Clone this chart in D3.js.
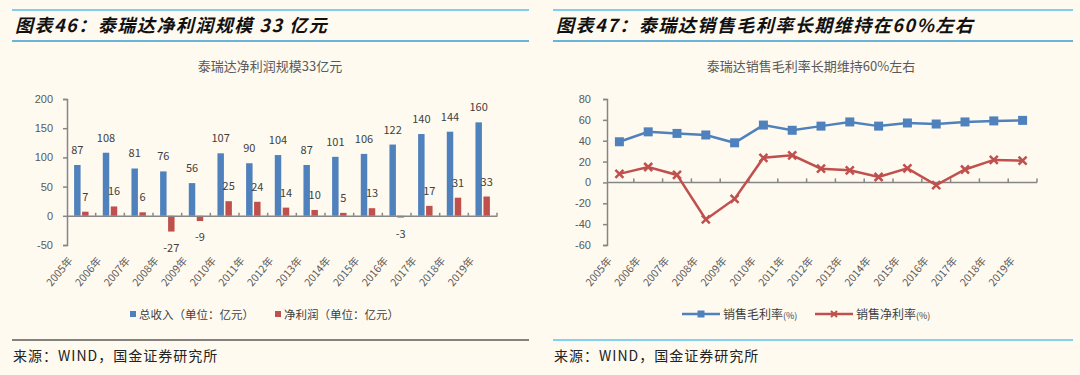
<!DOCTYPE html>
<html>
<head>
<meta charset="utf-8">
<style>
  html, body { margin: 0; padding: 0; background: #fffaf0; }
  svg { display: block; font-family: "Noto Sans CJK SC", "Noto Sans", sans-serif; }
</style>
</head>
<body>
<svg id="chart" width="1080" height="375"></svg>
<script src="https://cdnjs.cloudflare.com/ajax/libs/d3/7.8.5/d3.min.js"></script>
<script>
// data
const years = ["2005年","2006年","2007年","2008年","2009年","2010年","2011年","2012年","2013年","2014年","2015年","2016年","2017年","2018年","2019年"];
const revenue = [87, 108, 81, 76, 56, 107, 90, 104, 87, 101, 106, 122, 140, 144, 160];
const netProfit = [7, 16, 6, -27, -9, 25, 24, 14, 10, 5, 13, -3, 17, 31, 33];
const grossMargin = [39, 48.5, 47, 45.5, 38, 55, 50, 54, 58, 54, 57, 56, 58, 59, 59.5];
const netMargin = [8.2, 14.8, 7.2, -35.5, -15.8, 23.6, 26, 13.2, 11.6, 5.2, 13.5, -2.5, 12.4, 21.6, 20.8];
const leftTicks = [-50, 0, 50, 100, 150, 200];
const rightTicks = [-60, -40, -20, 0, 20, 40, 60, 80];

const blue = "#4f81bd", red = "#c0504d";
const axisColor = "#868686", tickText = "#595959", labelText = "#404040";

const svg = d3.select("#chart");

// panel frame: header lines, titles, footer
function panelFrame(x0, x1, title, footColor) {
  svg.append("line").attr("x1", x0).attr("x2", x1).attr("y1", 10).attr("y2", 10)
    .attr("stroke", "#80cdef").attr("stroke-width", 2);
  svg.append("line").attr("x1", x0).attr("x2", x1).attr("y1", 41).attr("y2", 41)
    .attr("stroke", "#3a9dd2").attr("stroke-width", 1.5);
  svg.append("text").attr("x", x0 + 3).attr("y", 32)
    .attr("font-size", 18).attr("font-weight", "bold").attr("font-style", "italic")
    .attr("letter-spacing", 1.5).attr("fill", "#111").text(title);
  svg.append("line").attr("x1", x0).attr("x2", x1).attr("y1", 340).attr("y2", 340)
    .attr("stroke", footColor).attr("stroke-width", 1.5);
  svg.append("text").attr("x", x0 + 1).attr("y", 361)
    .attr("font-size", 14).attr("letter-spacing", 1).attr("fill", "#222")
    .text("来源：WIND，国金证券研究所");
}

panelFrame(12, 529, "图表46：泰瑞达净利润规模 33 亿元", "#5a5a5a");
panelFrame(553, 1073, "图表47：泰瑞达销售毛利率长期维持在60%左右", "#5cc5f0");

// ---------- left chart: bars ----------
const xL = d3.scaleBand().domain(years).range([67, 497]);
const sub = d3.scaleBand().domain(["rev", "net"]).range([0, xL.bandwidth()])
  .paddingInner(0.19).paddingOuter(0.89);
const yL = d3.scaleLinear().domain([-50, 200]).range([245, 99]);

svg.append("text").attr("x", 270).attr("y", 71).attr("text-anchor", "middle")
  .attr("font-size", 13).attr("fill", tickText).text("泰瑞达净利润规模33亿元");

const gL = svg.append("g");
gL.append("g").attr("transform", "translate(67,0)")
  .call(d3.axisLeft(yL).tickValues(leftTicks).tickFormat(d => String(d)).tickSize(4).tickPadding(10))
  .call(g => {
    g.selectAll("path, line").attr("stroke", axisColor).attr("stroke-width", 1.5);
    g.selectAll("text").attr("font-size", 11).attr("fill", tickText).attr("font-family", null);
  });

const barRows = years.map((y, i) => ({ year: y, rev: revenue[i], net: netProfit[i] }));

gL.selectAll("rect.rev").data(barRows).join("rect")
  .attr("x", d => xL(d.year) + sub("rev")).attr("width", sub.bandwidth())
  .attr("y", d => yL(Math.max(0, d.rev))).attr("height", d => Math.abs(yL(d.rev) - yL(0)))
  .attr("fill", blue);
gL.selectAll("rect.net").data(barRows).join("rect")
  .attr("x", d => xL(d.year) + sub("net")).attr("width", sub.bandwidth())
  .attr("y", d => yL(Math.max(0, d.net))).attr("height", d => Math.abs(yL(d.net) - yL(0)))
  .attr("fill", red);

// x axis at zero
gL.append("g").attr("transform", `translate(0,${yL(0)})`)
  .call(d3.axisTop(xL).tickValues([]).tickSizeOuter(0))
  .call(g => g.select("path").attr("stroke", axisColor).attr("stroke-width", 1.5));
gL.selectAll("line.xt").data(years).join("line")
  .attr("x1", d => xL(d) + xL.bandwidth()).attr("x2", d => xL(d) + xL.bandwidth())
  .attr("y1", yL(0) - 3).attr("y2", yL(0))
  .attr("stroke", axisColor).attr("stroke-width", 1.5);

// data labels
gL.selectAll("text.rv").data(barRows).join("text")
  .attr("x", d => xL(d.year) + sub("rev") + sub.bandwidth() / 2)
  .attr("y", d => yL(d.rev) - 11).attr("text-anchor", "middle")
  .attr("font-size", 11).attr("fill", labelText).text(d => d.rev);
gL.selectAll("text.nt").data(barRows).join("text")
  .attr("x", d => xL(d.year) + sub("net") + sub.bandwidth() / 2)
  .attr("y", d => d.net >= 0 ? yL(d.net) - 11 : yL(d.net) + 20).attr("text-anchor", "middle")
  .attr("font-size", 11).attr("fill", labelText).text(d => d.net);

// rotated category labels
gL.selectAll("text.cat").data(years).join("text")
  .attr("transform", d => `translate(${xL(d) + xL.bandwidth() / 2 - 8},261) rotate(-50)`)
  .attr("text-anchor", "end").attr("font-size", 10.5).attr("fill", tickText).text(d => d);

// legend
const legL = [{ label: "总收入（单位：亿元）", color: blue, x: 130 }, { label: "净利润（单位：亿元）", color: red, x: 275 }];
legL.forEach(l => {
  svg.append("rect").attr("x", l.x).attr("y", 311).attr("width", 6).attr("height", 6).attr("fill", l.color);
  svg.append("text").attr("x", l.x + 9).attr("y", 319).attr("font-size", 11.5).attr("fill", labelText).text(l.label);
});

// ---------- right chart: lines ----------
const xR = d3.scaleBand().domain(years).range([605, 1037]);
const yR = d3.scaleLinear().domain([-60, 80]).range([245, 99]);

svg.append("text").attr("x", 811).attr("y", 71).attr("text-anchor", "middle")
  .attr("font-size", 13).attr("fill", tickText).text("泰瑞达销售毛利率长期维持60%左右");

const gR = svg.append("g");
gR.append("g").attr("transform", "translate(607,0)")
  .call(d3.axisLeft(yR).tickValues(rightTicks).tickFormat(d => String(d)).tickSize(4).tickPadding(12))
  .call(g => {
    g.selectAll("path, line").attr("stroke", axisColor).attr("stroke-width", 1.5);
    g.selectAll("text").attr("font-size", 11).attr("fill", tickText).attr("font-family", null);
  });
gR.append("line").attr("x1", 607).attr("x2", 1037).attr("y1", yR(0)).attr("y2", yR(0))
  .attr("stroke", axisColor).attr("stroke-width", 1.5);
gR.selectAll("line.xt").data(years).join("line")
  .attr("x1", d => xR(d) + xR.bandwidth()).attr("x2", d => xR(d) + xR.bandwidth())
  .attr("y1", yR(0) - 4).attr("y2", yR(0))
  .attr("stroke", axisColor).attr("stroke-width", 1.5);

const cx = d => xR(d) + xR.bandwidth() / 2;
const lineGen = vals => d3.line().x((d, i) => cx(years[i])).y(d => yR(d))(vals);

gR.append("path").attr("d", lineGen(grossMargin)).attr("fill", "none")
  .attr("stroke", blue).attr("stroke-width", 2.5);
gR.selectAll("rect.gm").data(grossMargin).join("rect")
  .attr("x", (d, i) => cx(years[i]) - 4.5).attr("y", d => yR(d) - 4.5)
  .attr("width", 9).attr("height", 9).attr("fill", blue);

gR.append("path").attr("d", lineGen(netMargin)).attr("fill", "none")
  .attr("stroke", red).attr("stroke-width", 2.5);
gR.selectAll("path.nm").data(netMargin).join("path")
  .attr("d", (d, i) => {
    const x = cx(years[i]), y = yR(d), s = 4;
    return `M${x - s},${y - s}L${x + s},${y + s}M${x - s},${y + s}L${x + s},${y - s}`;
  })
  .attr("stroke", red).attr("stroke-width", 2.5).attr("fill", "none");

gR.selectAll("text.cat").data(years).join("text")
  .attr("transform", d => `translate(${cx(d) - 7},261) rotate(-50)`)
  .attr("text-anchor", "end").attr("font-size", 10.5).attr("fill", tickText).text(d => d);

// legend
const legR = [{ label: "销售毛利率", color: blue, x: 682, marker: "sq" }, { label: "销售净利率", color: red, x: 815, marker: "x" }];
legR.forEach(l => {
  svg.append("line").attr("x1", l.x).attr("x2", l.x + 38).attr("y1", 314).attr("y2", 314)
    .attr("stroke", l.color).attr("stroke-width", 2.5);
  const mx = l.x + 19;
  if (l.marker === "sq") {
    svg.append("rect").attr("x", mx - 3.5).attr("y", 310.5).attr("width", 7).attr("height", 7).attr("fill", l.color);
  } else {
    svg.append("path").attr("d", `M${mx - 3},311L${mx + 3},317M${mx - 3},317L${mx + 3},311`)
      .attr("stroke", l.color).attr("stroke-width", 2);
  }
  const t = svg.append("text").attr("x", l.x + 41).attr("y", 319).attr("font-size", 12).attr("fill", labelText);
  t.append("tspan").text(l.label);
  t.append("tspan").attr("font-size", 9).text("(%)");
});
</script>
</body>
</html>
